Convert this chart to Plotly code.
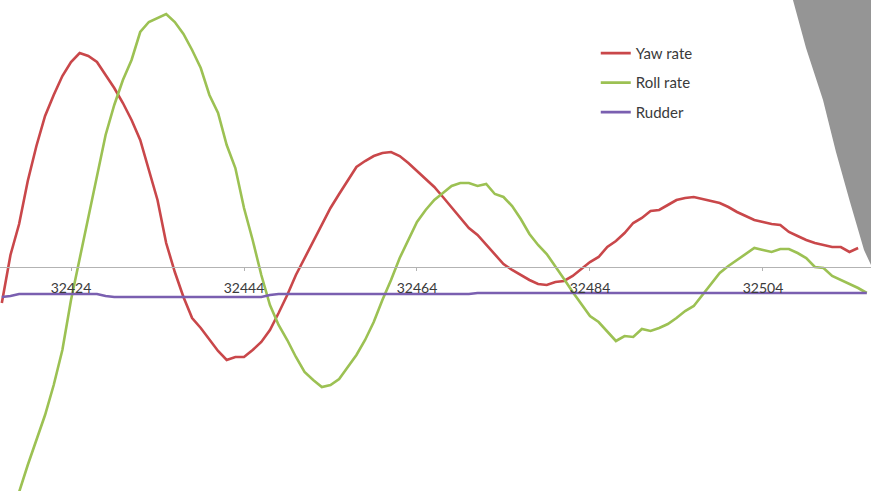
import plotly.graph_objects as go

samples = list(range(32416, 32517))

yaw_rate = [-3.6, 1.2, 4.3, 8.6, 12.1, 15.1, 17.2, 19.1, 20.5, 21.4,
            21.1, 20.5, 19.2, 17.9, 16.4, 14.7, 12.7, 9.7, 6.7, 2.4,
            -0.5, -3.0, -5.1, -6.1, -7.3, -8.4, -9.3, -9.0, -9.0, -8.3,
            -7.5, -6.3, -4.6, -2.8, -0.8, 0.9, 2.6, 4.2, 5.9, 7.3,
            8.7, 10.0, 10.6, 11.1, 11.4, 11.5, 11.1, 10.4, 9.6, 8.8,
            8.0, 7.0, 6.0, 4.9, 3.9, 3.2, 2.2, 1.2, 0.3, -0.3,
            -0.8, -1.3, -1.7, -1.8, -1.5, -1.4, -0.9, -0.2, 0.5, 1.0,
            2.0, 2.6, 3.4, 4.4, 4.9, 5.6, 5.7, 6.2, 6.7, 6.9,
            7.0, 6.8, 6.6, 6.4, 6.0, 5.5, 5.1, 4.7, 4.5, 4.3,
            4.2, 3.5, 3.1, 2.7, 2.4, 2.2, 2.0, 2.0, 1.5, 1.9]

roll_rate = [-29.3, -25.8, -22.5, -19.8, -17.3, -14.8, -11.8, -8.3, -3.3, 0.9,
             4.9, 9.2, 13.2, 16.2, 18.7, 20.7, 23.5, 24.5, 24.9, 25.3,
             24.5, 23.3, 21.7, 19.9, 17.2, 15.4, 12.2, 9.9, 5.9, 2.7,
             -0.8, -3.8, -5.8, -7.3, -9.0, -10.5, -11.3, -12.0, -11.8, -11.2,
             -10.0, -8.8, -7.3, -5.5, -3.3, -1.3, 0.9, 2.7, 4.5, 5.7,
             6.7, 7.4, 8.1, 8.4, 8.4, 8.1, 8.3, 7.3, 7.0, 6.1,
             4.8, 3.3, 2.2, 1.3, 0.1, -1.2, -2.5, -3.7, -4.9, -5.5,
             -6.4, -7.4, -6.9, -7.0, -6.2, -6.4, -6.1, -5.7, -5.1, -4.4,
             -3.9, -2.8, -1.6, -0.6, 0.1, 0.7, 1.3, 1.9, 1.7, 1.5,
             1.8, 1.8, 1.4, 0.9, 0.0, -0.1, -0.9, -1.3, -1.7, -2.1,
             -2.6]

rudder = [-3.0, -2.9, -2.7, -2.7, -2.7, -2.7, -2.7, -2.7, -2.7, -2.7,
          -2.7, -2.7, -2.9, -3.0, -3.0, -3.0, -3.0, -3.0, -3.0, -3.0,
          -3.0, -3.0, -3.0, -3.0, -3.0, -3.0, -3.0, -3.0, -3.0, -3.0,
          -3.0, -2.8, -2.7, -2.7, -2.7, -2.7, -2.7, -2.7, -2.7, -2.7,
          -2.7, -2.7, -2.7, -2.7, -2.7, -2.7, -2.7, -2.7, -2.7, -2.7,
          -2.7, -2.7, -2.7, -2.7, -2.7, -2.6, -2.6, -2.6, -2.6, -2.6,
          -2.6, -2.6, -2.6, -2.6, -2.6, -2.6, -2.6, -2.6, -2.6, -2.6,
          -2.6, -2.6, -2.6, -2.6, -2.6, -2.6, -2.6, -2.6, -2.6, -2.6,
          -2.6, -2.6, -2.6, -2.6, -2.6, -2.6, -2.6, -2.6, -2.6, -2.6,
          -2.6, -2.6, -2.6, -2.6, -2.6, -2.6, -2.6, -2.6, -2.6, -2.6,
          -2.6]

tick_values = [32424, 32444, 32464, 32484, 32504]
tick_labels = ["32424", "32444", "32464", "32484", "32504"]
series_names = ["Yaw rate", "Roll rate", "Rudder"]
series_colors = ["#c9474a", "#9cc153", "#7a5fb0"]

W, H = 871, 491

fig = go.Figure()
for name, vals, col, grp in [
    (series_names[0], yaw_rate, series_colors[0], "a"),
    (series_names[1], roll_rate, series_colors[1], "b"),
    (series_names[2], rudder, series_colors[2], "c"),
]:
    fig.add_trace(go.Scatter(
        x=samples[:len(vals)], y=vals, mode="lines", name=name,
        legendgroup=grp,
        line=dict(color=col, width=2.6),
    ))

# slide decoration (grey wedge at the top right)
def px(x, y):
    return f"{x / W:.4f},{1 - y / H:.4f}"

wedge = ("M " + px(793, 0) + " L " + px(871, 0) + " L " + px(871, 265)
         + " L " + px(864, 250) + " L " + px(850, 202) + " L " + px(836, 152)
         + " L " + px(823, 100) + " L " + px(806, 48) + " Z")

fig.update_layout(
    width=W, height=H, autosize=False,
    margin=dict(l=0, r=0, t=0, b=0),
    paper_bgcolor="white", plot_bgcolor="white",
    font=dict(family="Lato, 'Open Sans', sans-serif", color="#3a3a3a", size=14),
    showlegend=True,
    legend=dict(
        x=0.684, y=0.925, xanchor="left", yanchor="top",
        bgcolor="rgba(0,0,0,0)", font=dict(size=15, color="#3a3a3a"),
        traceorder="grouped", tracegroupgap=7,
        itemwidth=30,
    ),
    shapes=[dict(type="path", xref="paper", yref="paper", path=wedge,
                 fillcolor="#959595", line=dict(width=0), layer="above")],
    xaxis=dict(
        range=[32415.79, 32516.49],
        anchor="free", position=1 - 267 / H,
        showline=True, linecolor="#b3b3b3", linewidth=1,
        showgrid=False, zeroline=False,
        ticks="outside", ticklen=3, tickcolor="#b3b3b3",
        tickvals=tick_values, ticktext=tick_labels,
        ticklabelstandoff=5,
        tickfont=dict(size=14, color="#3a3a3a"),
    ),
    yaxis=dict(
        range=[-22.4, 26.7], showgrid=False, zeroline=False,
        showticklabels=False, showline=False, ticks="",
    ),
)

fig.write_html(
    "out.html",
    config={"displayModeBar": False},
    post_script="document.body.style.margin='0';document.body.style.overflow='hidden';",
)
